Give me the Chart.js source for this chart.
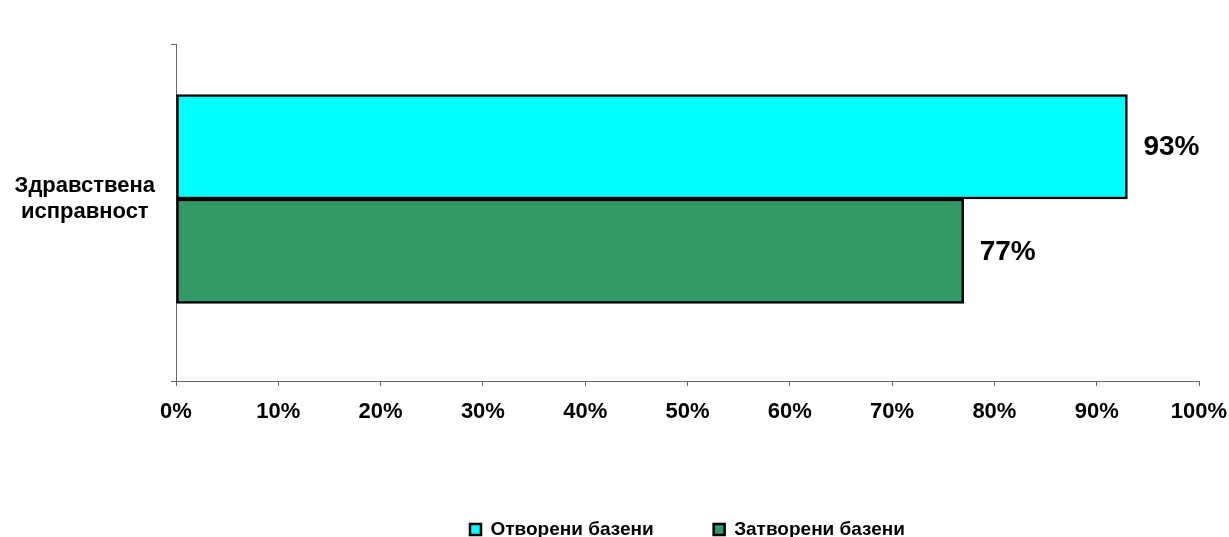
<!DOCTYPE html>
<html>
<head>
<meta charset="utf-8">
<script src="https://cdn.jsdelivr.net/npm/chart.js@4"></script>
<style>
  html, body { margin: 0; padding: 0; background: #fff; }
</style>
</head>
<body>
<canvas id="basins" width="1229" height="537"></canvas>
<script>
// données du graphique
const categories = [['Здравствена', 'исправност']];
const seriesNames = ['Отворени базени', 'Затворени базени'];
const openValues = [93];
const closedValues = [77];
const xTicks = [0, 10, 20, 30, 40, 50, 60, 70, 80, 90, 100];

const fontFamily = "Arial, 'Liberation Sans', sans-serif";
const axisGray = '#666666';

// l'axe des catégories est numérique : la catégorie 0 n'est pas au milieu de l'axe
const yMin = -0.46;
const yMax = 0.54;

// points {x: valeur, y: index de catégorie}
const toPoints = (values) => values.map((v, i) => ({ x: v, y: i }));

// affiche la valeur en % à droite de chaque barre
const valueLabels = {
    id: 'valueLabels',
    afterDatasetsDraw(chart) {
        const ctx = chart.ctx;
        ctx.save();
        ctx.font = 'bold 28px ' + fontFamily;
        ctx.fillStyle = '#000';
        ctx.textAlign = 'left';
        ctx.textBaseline = 'middle';
        chart.data.datasets.forEach((ds, i) => {
            const meta = chart.getDatasetMeta(i);
            meta.data.forEach((bar, j) => {
                ctx.fillText(ds.data[j].x + '%', bar.x + 16, bar.y + 1);
            });
        });
        ctx.restore();
    }
};

const ctx = document.getElementById('basins').getContext('2d');
const myChart = new Chart(ctx, {
    type: 'bar',
    data: {
        datasets: [
            {
                label: seriesNames[0],
                data: toPoints(openValues),
                backgroundColor: '#00FFFF',
                borderColor: '#000',
                borderWidth: 2.5,
                borderSkipped: false
            },
            {
                label: seriesNames[1],
                data: toPoints(closedValues),
                backgroundColor: '#339966',
                borderColor: '#000',
                borderWidth: 2.5,
                borderSkipped: false
            }
        ]
    },
    options: {
        indexAxis: 'y',
        responsive: false,
        devicePixelRatio: 1,
        animation: false,
        barThickness: 104.5,
        layout: {
            padding: { top: 44, right: 30, left: 0, bottom: -12 }
        },
        scales: {
            x: {
                type: 'linear',
                min: 0,
                max: 100,
                afterBuildTicks: (scale) => {
                    scale.ticks = xTicks.map(v => ({ value: v }));
                },
                afterFit: (scale) => {
                    scale.height = 79;
                    scale.paddingLeft = 0;
                    scale.paddingRight = 0;
                },
                grid: {
                    drawOnChartArea: false,
                    drawTicks: true,
                    tickLength: 5,
                    color: axisGray
                },
                border: { color: axisGray, width: 1 },
                ticks: {
                    callback: (v) => v + '%',
                    padding: 13,
                    maxRotation: 0,
                    autoSkip: false,
                    color: '#000',
                    font: { family: fontFamily, size: 22, weight: 'bold' }
                }
            },
            y: {
                type: 'linear',
                reverse: true,
                offset: false,
                min: yMin,
                max: yMax,
                afterBuildTicks: (scale) => {
                    // bornes de l'axe + position de la catégorie
                    scale.ticks = [{ value: yMin }].concat(
                        categories.map((c, i) => ({ value: i })),
                        [{ value: yMax }]
                    );
                },
                afterFit: (scale) => { scale.width = 176; },
                grid: {
                    drawOnChartArea: false,
                    drawTicks: true,
                    tickLength: 5,
                    offset: false,
                    // petits traits seulement aux bornes, pas sous le libellé
                    color: (c) => (c.tick && categories[c.tick.value] ? 'rgba(0,0,0,0)' : axisGray)
                },
                border: { color: axisGray, width: 1 },
                ticks: {
                    autoSkip: false,
                    callback: (v) => categories[v] || '',
                    crossAlign: 'center',
                    padding: 16,
                    color: '#000',
                    font: { family: fontFamily, size: 22, weight: 'bold', lineHeight: 1.2 }
                }
            }
        },
        plugins: {
            legend: {
                position: 'bottom',
                fullSize: false,
                labels: {
                    boxWidth: 11,
                    boxHeight: 11,
                    padding: 60,
                    color: '#000',
                    font: { family: fontFamily, size: 19, weight: 'bold' }
                }
            },
            tooltip: { enabled: false }
        }
    },
    plugins: [valueLabels]
});
</script>
</body>
</html>
